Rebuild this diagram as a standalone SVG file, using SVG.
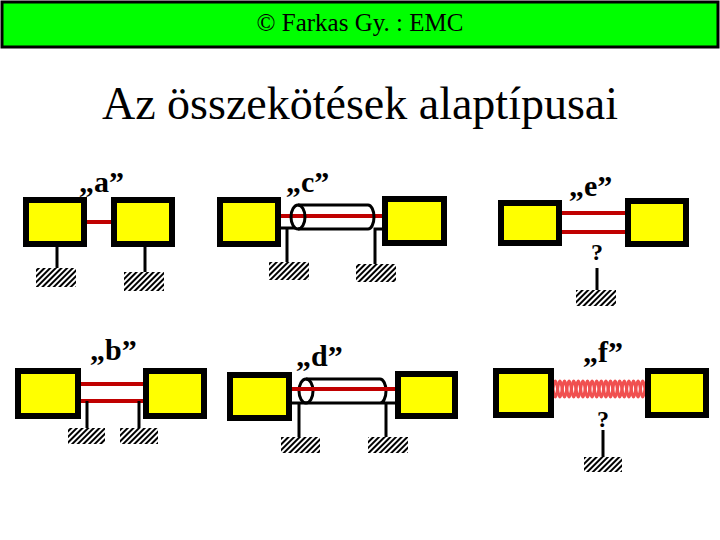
<svg xmlns="http://www.w3.org/2000/svg" width="720" height="540" viewBox="0 0 720 540">
<style>
.box{fill:#ffff00;stroke:#000;stroke-width:6}
.red{stroke:#c00000;stroke-width:4;fill:none}
.blk{stroke:#000;stroke-width:3;fill:none}
.gnd{fill:url(#hatch)}
.tw{stroke:#f05050;stroke-width:3;fill:none}
.lbl{font-family:"Liberation Serif",serif;font-weight:bold;font-size:30px}
.q{font-family:"Liberation Serif",serif;font-weight:bold;font-size:24px;text-anchor:middle}
</style>
<defs>
<pattern id="hatch" width="4" height="4" patternUnits="userSpaceOnUse" patternTransform="rotate(45)">
<rect width="4" height="4" fill="#fff"/><rect width="2" height="4" fill="#000"/>
</pattern>
</defs>
<rect width="720" height="540" fill="#fff"/>
<g id="header">
<rect x="2" y="2" width="716" height="45" fill="#00ff00" stroke="#000" stroke-width="3"/>
<text x="360" y="31" text-anchor="middle" font-family="Liberation Serif,serif" font-size="25">© Farkas Gy. : EMC</text>
</g>
<text x="360" y="119" text-anchor="middle" font-family="Liberation Serif,serif" font-size="46">Az összekötések alaptípusai</text>
<g id="connectors">
<line class="red" x1="86" y1="222" x2="111" y2="222"/>
<line class="blk" x1="57" y1="246" x2="57" y2="268"/>
<line class="blk" x1="145" y1="246" x2="145" y2="272"/>
<line class="red" x1="280" y1="216" x2="383" y2="216"/>
<path class="blk" d="M298 205 H368 M298 229 H368 M368 205 A6 12 0 0 1 368 229"/>
<ellipse class="blk" cx="298" cy="217" rx="7" ry="12"/>
<path class="blk" d="M280 228 H295 M287 228 V262 M382 229 H375 V264"/>
<line class="red" x1="562" y1="213" x2="625" y2="213"/>
<line class="red" x1="562" y1="232" x2="625" y2="232"/>
<line class="blk" x1="597" y1="268" x2="597" y2="290"/>
<line class="red" x1="80" y1="384" x2="143" y2="384"/>
<line class="red" x1="80" y1="401" x2="143" y2="401"/>
<line class="blk" x1="87" y1="401" x2="87" y2="428"/>
<line class="blk" x1="139" y1="401" x2="139" y2="428"/>
<path class="blk" d="M306 379 H380 M292 403 H395 M380 379 A6 12 0 0 1 380 403 M299 403 V437 M386 403 V437"/>
<ellipse class="blk" cx="306" cy="391" rx="7" ry="12"/>
<line class="red" x1="292" y1="389" x2="395" y2="389"/>
<path class="tw" d="M553 389 q2.3 -16 4.6 0 t4.6 0 t4.6 0 t4.6 0 t4.6 0 t4.6 0 t4.6 0 t4.6 0 t4.6 0 t4.6 0 t4.6 0 t4.6 0 t4.6 0 t4.6 0 t4.6 0 t4.6 0 t4.6 0 t4.6 0 t4.6 0 t4.6 0"/>
<path class="tw" d="M553 389 q2.3 16 4.6 0 t4.6 0 t4.6 0 t4.6 0 t4.6 0 t4.6 0 t4.6 0 t4.6 0 t4.6 0 t4.6 0 t4.6 0 t4.6 0 t4.6 0 t4.6 0 t4.6 0 t4.6 0 t4.6 0 t4.6 0 t4.6 0 t4.6 0"/>
<line class="blk" x1="603" y1="430" x2="603" y2="457"/>
</g>
<g id="a">
<rect class="box" x="26" y="200" width="58" height="44"/>
<rect class="box" x="114" y="200" width="58" height="44"/>
<rect class="gnd" x="36" y="268" width="40" height="19"/>
<rect class="gnd" x="124" y="272" width="40" height="19"/>
<text class="lbl" x="79" y="192">„a”</text>
</g>
<g id="c">
<rect class="box" x="220" y="200" width="58" height="44"/>
<rect class="box" x="385" y="199" width="59" height="44"/>
<rect class="gnd" x="269" y="262" width="40" height="18"/>
<rect class="gnd" x="356" y="264" width="40" height="18"/>
<text class="lbl" x="286" y="192">„c”</text>
</g>
<g id="e">
<rect class="box" x="501" y="203" width="58" height="40"/>
<rect class="box" x="628" y="201" width="58" height="43"/>
<text class="lbl" x="569" y="196">„e”</text>
<text class="q" x="597" y="260">?</text>
<rect class="gnd" x="576" y="290" width="40" height="16"/>
</g>
<g id="b">
<rect class="box" x="18" y="371" width="60" height="45"/>
<rect class="box" x="146" y="371" width="58" height="45"/>
<rect class="gnd" x="68" y="428" width="37" height="16"/>
<rect class="gnd" x="120" y="428" width="38" height="16"/>
<text class="lbl" x="90" y="360">„b”</text>
</g>
<g id="d">
<rect class="box" x="230" y="375" width="59" height="43"/>
<rect class="box" x="398" y="374" width="57" height="42"/>
<rect class="gnd" x="281" y="437" width="39" height="16"/>
<rect class="gnd" x="368" y="437" width="40" height="16"/>
<text class="lbl" x="296" y="366">„d”</text>
</g>
<g id="f">
<rect class="box" x="496" y="371" width="55" height="44"/>
<rect class="box" x="648" y="371" width="58" height="44"/>
<text class="lbl" x="583" y="362">„f”</text>
<text class="q" x="603" y="427">?</text>
<rect class="gnd" x="584" y="457" width="38" height="15"/>
</g>
</svg>
